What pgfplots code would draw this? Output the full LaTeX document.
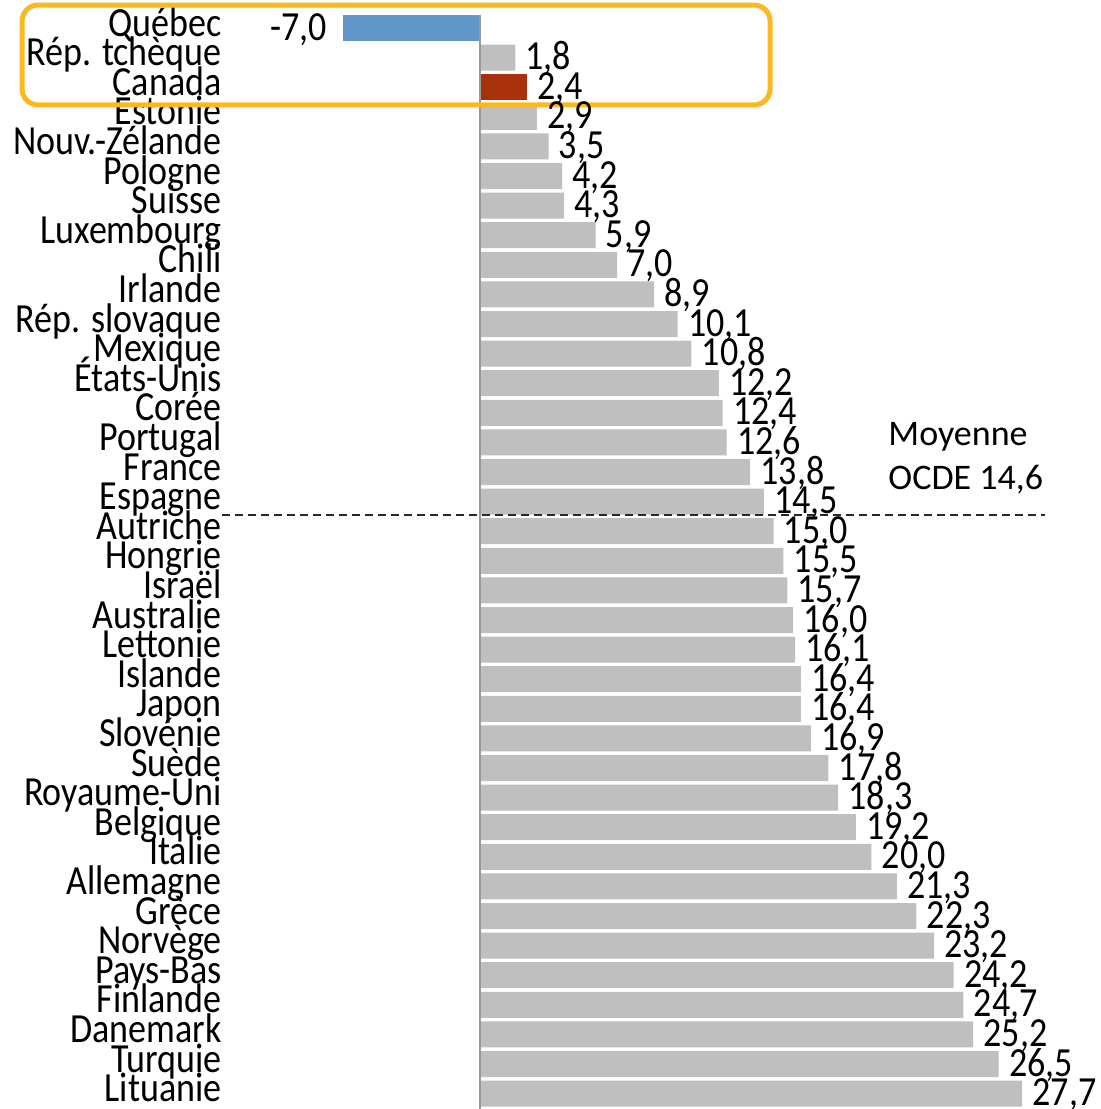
\documentclass[border=0pt]{standalone}
\usepackage{fontspec}
\setmainfont{Carlito}
\newfontfamily\tallfont[FakeStretch=0.87]{Carlito}
\usepackage{pgfplots}
\pgfplotsset{compat=1.18}
\definecolor{barGray}{HTML}{BFBFBF}
\definecolor{barBlue}{HTML}{6096C8}
\definecolor{barRed}{HTML}{A93109}
\definecolor{boxOrange}{HTML}{FBB820}
\definecolor{lineDark}{HTML}{1F2A33}
\newcommand{\lbl}{\tallfont\fontsize{20.7}{22}\selectfont}
\begin{document}
\begin{tikzpicture}
\begin{axis}[
    scale only axis,
    width=550.5pt, height=554.5pt,
    xmin=-24.53, xmax=31.73,
    ymin=-0.946, ymax=36.52,
    y dir=reverse,
    axis line style={draw=none},
    xtick=\empty,
    ytick={0,...,36},
    major tick style={draw=none},
    yticklabels={Québec,Rép. tchèque,Canada,Estonie,Nouv.-Zélande,Pologne,Suisse,Luxembourg,Chili,Irlande,Rép. slovaque,Mexique,États-Unis,Corée,Portugal,France,Espagne,Autriche,Hongrie,Israël,Australie,Lettonie,Islande,Japon,Slovénie,Suède,Royaume-Uni,Belgique,Italie,Allemagne,Grèce,Norvège,Pays-Bas,Finlande,Danemark,Turquie,Lituanie},
    yticklabel style={anchor=base east, inner sep=0pt, xshift=111pt, yshift=-4pt, font=\lbl},
    /pgf/number format/assume math mode=true,
    /pgf/number format/fixed,
    /pgf/number format/fixed zerofill,
    /pgf/number format/precision=1,
    /pgf/number format/use comma,
    bar width=13pt,
    clip=false,
]
\addplot[xbar, bar shift=0pt, fill=barGray, draw=none, nodes near coords,
    nodes near coords style={font=\lbl, anchor=base west, inner sep=0pt, xshift=5pt, yshift=-6pt}] coordinates {
    (1.8,1) (2.9,3) (3.5,4) (4.2,5) (4.3,6) (5.9,7) (7.0,8) (8.9,9)
    (10.1,10) (10.8,11) (12.2,12) (12.4,13) (12.6,14) (13.8,15) (14.5,16)
    (15.0,17) (15.5,18) (15.7,19) (16.0,20) (16.1,21) (16.4,22) (16.4,23)
    (16.9,24) (17.8,25) (18.3,26) (19.2,27) (20.0,28) (21.3,29) (22.3,30)
    (23.2,31) (24.2,32) (24.7,33) (25.2,34) (26.5,35) (27.7,36)
};
\addplot[xbar, bar shift=0pt, fill=barRed, draw=none, nodes near coords,
    nodes near coords style={font=\lbl, anchor=base west, inner sep=0pt, xshift=5pt, yshift=-6pt}] coordinates {(2.4,2)};
\addplot[xbar, bar shift=0pt, fill=barBlue, draw=none, nodes near coords,
    nodes near coords style={font=\lbl, anchor=base east, inner sep=0pt, xshift=-8pt, yshift=-6pt}] coordinates {(-7.0,0)};
% zero line
\addplot[draw=gray!80, line width=1pt, sharp plot, mark=none] coordinates {(0,-0.45) (0,36.52)};
% OECD average
\addplot[draw=lineDark, line width=0.75pt, dash pattern=on 4pt off 2.5pt, sharp plot, mark=none] coordinates {(-13.18,16.45) (28.87,16.45)};
\node[anchor=west, align=left, font=\fontsize{18}{22}\selectfont, inner sep=0pt] at (axis cs:20.85,14.55) {Moyenne\\OCDE 14,6};
\draw[boxOrange, line width=2.5pt, rounded corners=8pt] (axis cs:-23.40,-0.777) rectangle (axis cs:14.82,2.60);
\end{axis}
\pgfresetboundingbox
\path (current axis.south west) rectangle (current axis.north east);
\end{tikzpicture}
\end{document}
